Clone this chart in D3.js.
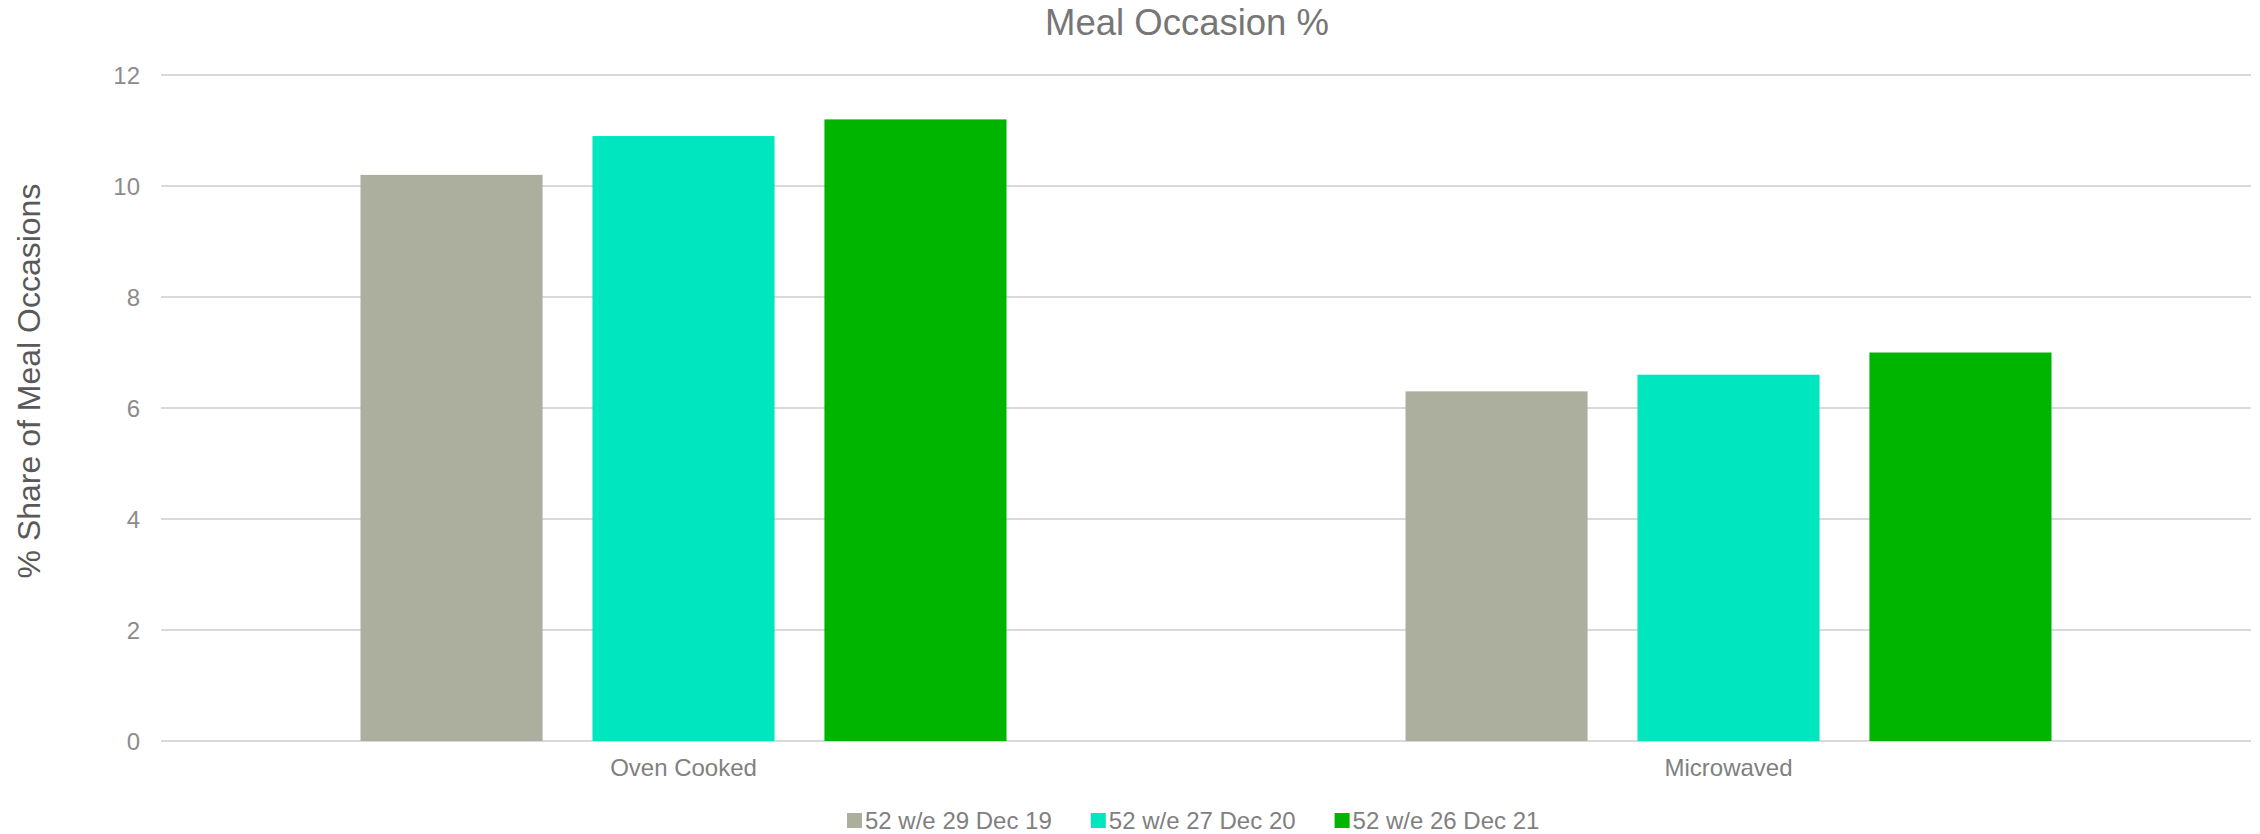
<!DOCTYPE html>
<html>
<head>
<meta charset="utf-8">
<script src="https://cdn.jsdelivr.net/npm/d3@7"></script>
<style>
  html, body { margin: 0; padding: 0; background: #ffffff; }
  svg { display: block; font-family: "Liberation Sans", Arial, sans-serif; }
</style>
</head>
<body>
<svg id="chart" width="2260" height="834"></svg>
<script>
const categories = ["Oven Cooked", "Microwaved"];
const seriesNames = ["52 w/e 29 Dec 19", "52 w/e 27 Dec 20", "52 w/e 26 Dec 21"];
const series2019 = [10.2, 6.3];
const series2020 = [10.9, 6.6];
const series2021 = [11.2, 7.0];
const yTicks = [0, 2, 4, 6, 8, 10, 12];
const seriesColors = ["#adaf9e", "#00e6be", "#00b500"];

const seriesValues = [series2019, series2020, series2021];

const svg = d3.select("#chart");
const plot = { left: 161, right: 2251, top: 75, bottom: 741 };

const y = d3.scaleLinear().domain([0, 12]).range([plot.bottom, plot.top]);
const x0 = d3.scaleBand().domain(categories).range([plot.left, plot.right]).paddingInner(0).paddingOuter(0);
const x1 = d3.scaleBand().domain(seriesNames).range([0, x0.bandwidth()]).paddingInner(0.215).paddingOuter(0.86);

// gridlines
svg.append("g")
  .selectAll("line")
  .data(yTicks)
  .join("line")
  .attr("x1", plot.left).attr("x2", plot.right)
  .attr("y1", d => y(d)).attr("y2", d => y(d))
  .attr("stroke", "#d9d9d9").attr("stroke-width", 2);

// y axis labels
const yAxis = d3.axisLeft(y).tickValues(yTicks).tickSize(0).tickPadding(0);
const gy = svg.append("g").attr("transform", `translate(${plot.left - 21},0)`).call(yAxis);
gy.select(".domain").remove();
gy.selectAll("text")
  .attr("font-family", "Liberation Sans, Arial, sans-serif")
  .attr("font-size", 24).attr("fill", "#8c8c8c").attr("dy", "0.36em");

// bars
const groups = svg.append("g").selectAll("g")
  .data(categories)
  .join("g")
  .attr("transform", d => `translate(${x0(d)},0)`);

groups.selectAll("rect")
  .data((c, ci) => seriesNames.map((s, si) => ({ s, si, v: seriesValues[si][ci] })))
  .join("rect")
  .attr("x", d => x1(d.s))
  .attr("width", x1.bandwidth())
  .attr("y", d => y(d.v))
  .attr("height", d => y(0) - y(d.v))
  .attr("fill", d => seriesColors[d.si]);

// x axis labels
const xAxis = d3.axisBottom(x0).tickSize(0).tickPadding(0);
const gx = svg.append("g").attr("transform", `translate(0,${plot.bottom})`).call(xAxis);
gx.select(".domain").remove();
gx.selectAll("text")
  .attr("font-family", "Liberation Sans, Arial, sans-serif")
  .attr("font-size", 24).attr("fill", "#808080").attr("dy", 0).attr("y", 35);

// title
svg.append("text")
  .attr("x", 1187).attr("y", 35)
  .attr("text-anchor", "middle")
  .attr("font-size", 36.5).attr("fill", "#767676")
  .text("Meal Occasion %");

// y axis title
svg.append("text")
  .attr("transform", "translate(40,381) rotate(-90)")
  .attr("text-anchor", "middle")
  .attr("font-size", 32).attr("fill", "#595959")
  .text("% Share of Meal Occasions");

// legend
const legend = svg.append("g");
let lx = 847;
seriesNames.forEach((name, i) => {
  legend.append("rect")
    .attr("x", lx).attr("y", 813).attr("width", 15).attr("height", 15)
    .attr("fill", seriesColors[i]);
  const t = legend.append("text")
    .attr("x", lx + 18).attr("y", 829)
    .attr("font-size", 24).attr("fill", "#808080")
    .text(name);
  lx = lx + 18 + t.node().getComputedTextLength() + 39;
});
</script>
</body>
</html>
